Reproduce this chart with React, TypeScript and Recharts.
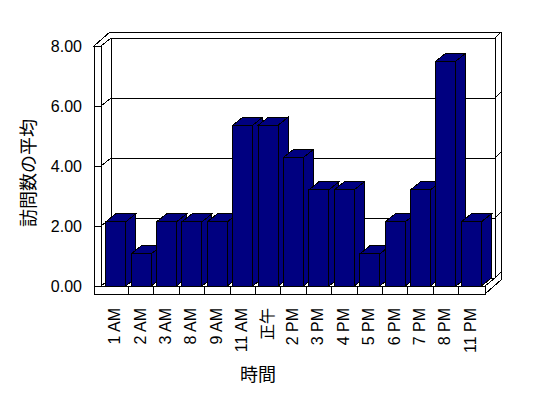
import { Bar, BarChart, CartesianGrid, Customized, XAxis, YAxis } from "recharts";

const HOURS = ["1 AM", "2 AM", "3 AM", "8 AM", "9 AM", "11 AM", "正午", "2 PM", "3 PM", "4 PM", "5 PM", "6 PM", "7 PM", "8 PM", "11 PM"];
const AVG_VISITS = [2.14, 1.07, 2.14, 2.14, 2.14, 5.36, 5.36, 4.29, 3.21, 3.21, 1.07, 2.14, 3.21, 7.5, 2.14];
const Y_TICKS = [0, 2, 4, 6, 8];

const data = HOURS.map((hour, i) => ({ hour, visits: AVG_VISITS[i] }));

// layout of the pseudo-3D box (Excel style)
const W = 548;
const H = 398;
const L = 101;
const R = 485;
const T = 46;
const B = 286;
const WALL = 7; // left wall / floor thickness
const DX = 10; // depth to inner back wall
const DY = -8;
const OX = 16; // depth to outer back wall
const OY = -14;
const PAD_L = 2;
const PAD_R = 1;
const BAND = (R - L - PAD_L - PAD_R) / HOURS.length;

const NAVY = "#000080";
const FONT = "'Liberation Sans', 'Noto Sans CJK JP', sans-serif";

const ln = { stroke: "#000", strokeWidth: 1, shapeRendering: "crispEdges" as const };

function Bar3D(props: any) {
  const { x, y, width, height } = props;
  if (height == null || height <= 0) return null;
  const top = `${x},${y} ${x + width},${y} ${x + width + DX},${y + DY} ${x + DX},${y + DY}`;
  const side = `${x + width},${y} ${x + width + DX},${y + DY} ${x + width + DX},${y + height + DY} ${x + width},${y + height}`;
  return (
    <g>
      <polygon points={side} fill={NAVY} {...ln} />
      <polygon points={top} fill={NAVY} {...ln} />
      <rect x={x} y={y} width={width} height={height} fill={NAVY} {...ln} />
    </g>
  );
}

function GridLine(props: any) {
  const y = props.y1;
  return (
    <g key={props.key}>
      <line x1={L - WALL} y1={y} x2={L} y2={y} {...ln} />
      <line x1={L} y1={y} x2={L + DX} y2={y + DY} {...ln} />
      <line x1={L + DX} y1={y + DY} x2={R + DX} y2={y + DY} {...ln} />
      <line x1={R + DX} y1={y + DY} x2={R + OX} y2={y + OY} {...ln} />
    </g>
  );
}

function Frame() {
  const front = `${L - WALL},${T} ${L},${T} ${L},${B} ${R},${B} ${R},${B + 8} ${L - WALL},${B + 8}`;
  const topFace = `${L - WALL},${T} ${L},${T} ${L + DX},${T + DY} ${R + DX},${T + DY} ${R + OX},${T + OY} ${L - WALL + OX},${T + OY}`;
  return (
    <g>
      <polygon points={front} fill="none" {...ln} />
      <polygon points={topFace} fill="none" {...ln} />
      <line x1={L + DX} y1={T + DY} x2={L + DX} y2={B + DY} {...ln} />
      <line x1={L + DX} y1={B + DY} x2={R + DX} y2={B + DY} {...ln} />
      <line x1={R + DX} y1={T + DY} x2={R + DX} y2={B + DY} {...ln} />
      <line x1={R + OX} y1={T + OY} x2={R + OX} y2={B + 8 + OY} {...ln} />
      <line x1={R} y1={B} x2={R + DX} y2={B + DY} {...ln} />
      <line x1={R} y1={B + 8} x2={R + OX} y2={B + 8 + OY} {...ln} />
      <text
        x={29}
        y={173}
        transform="rotate(-90 29 173)"
        textAnchor="middle"
        dominantBaseline="central"
        fontSize={18}
        fontFamily={FONT}
        fill="#000"
      >
        訪問数の平均
      </text>
      <text x={258} y={375} textAnchor="middle" dominantBaseline="central" fontSize={18} fontFamily={FONT} fill="#000">
        時間
      </text>
    </g>
  );
}

function HourTick(props: any) {
  const { x, payload, index } = props;
  const ty = B + 22;
  return (
    <g>
      {index < HOURS.length - 1 && <line x1={x + BAND / 2} y1={B} x2={x + BAND / 2} y2={B + 8} {...ln} />}
      <text
        x={x - 1}
        y={ty}
        transform={`rotate(-90 ${x - 1} ${ty})`}
        textAnchor="end"
        dominantBaseline="central"
        fontSize={16}
        fontFamily={FONT}
        fill="#000"
      >
        {payload.value}
      </text>
    </g>
  );
}

function ValueTick(props: any) {
  const { y, payload } = props;
  return (
    <text x={L - WALL - 12} y={y} textAnchor="end" dominantBaseline="central" fontSize={16} fontFamily={FONT} fill="#000">
      {Number(payload.value).toFixed(2)}
    </text>
  );
}

export default function App() {
  return (
    <div style={{ position: "absolute", left: 0, top: 0, width: W, height: H, background: "#fff" }}>
      <BarChart
        width={W}
        height={H}
        data={data}
        margin={{ top: T, right: W - R, left: L - 60, bottom: H - B - 60 }}
        barCategoryGap="11%"
      >
        <Customized component={Frame} />
        <CartesianGrid vertical={false} horizontal={(p: any) => <GridLine {...p} />} />
        <XAxis
          dataKey="hour"
          height={60}
          interval={0}
          axisLine={false}
          tickLine={false}
          padding={{ left: PAD_L, right: PAD_R }}
          tick={<HourTick />}
        />
        <YAxis width={60} domain={[0, 8]} ticks={Y_TICKS} axisLine={false} tickLine={false} tick={<ValueTick />} />
        <Bar dataKey="visits" shape={<Bar3D />} isAnimationActive={false} />
      </BarChart>
    </div>
  );
}
